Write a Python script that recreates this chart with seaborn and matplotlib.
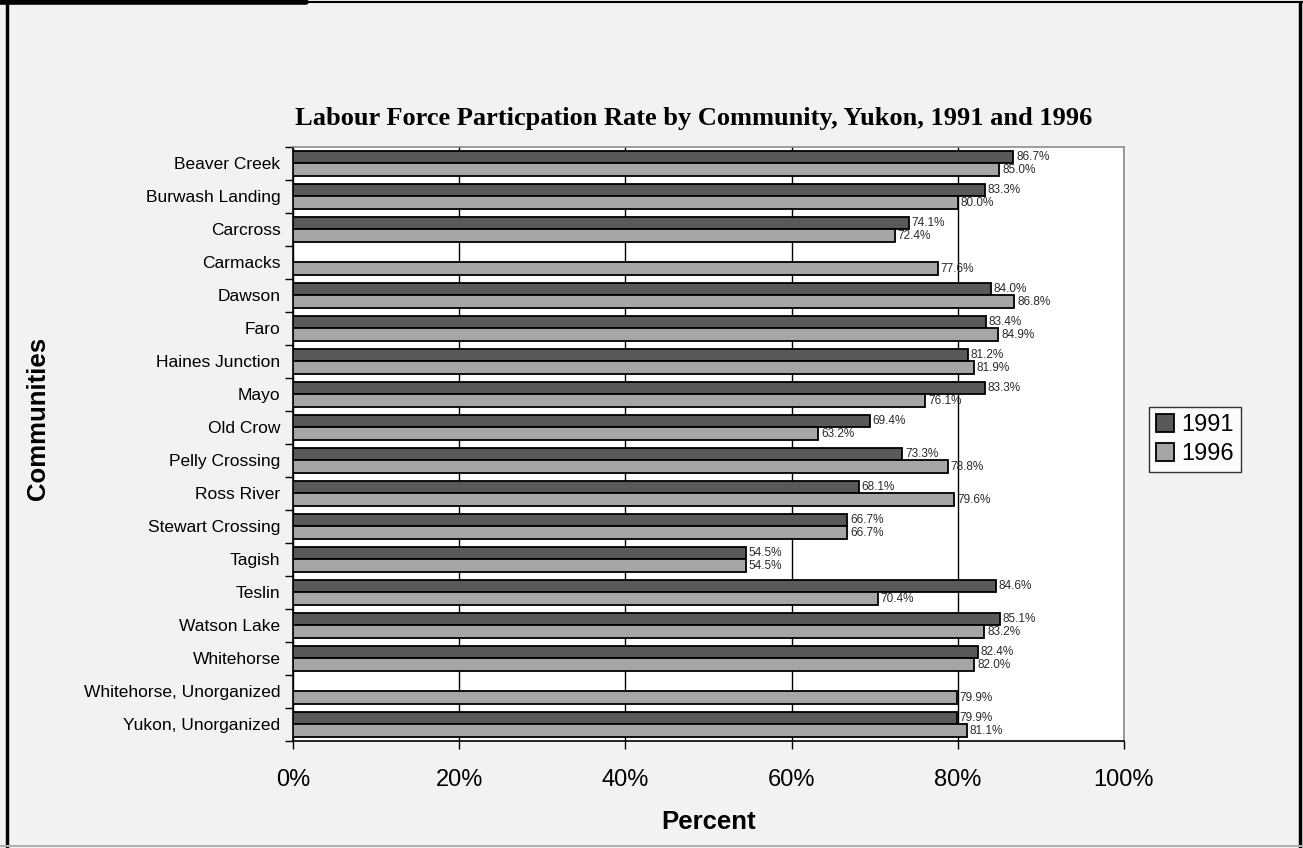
import matplotlib
matplotlib.use("Agg")
import matplotlib.pyplot as plt
from matplotlib.lines import Line2D
import numpy as np
import pandas as pd
import seaborn as sns

communities = [
    "Beaver Creek", "Burwash Landing", "Carcross", "Carmacks", "Dawson", "Faro",
    "Haines Junction", "Mayo", "Old Crow", "Pelly Crossing", "Ross River",
    "Stewart Crossing", "Tagish", "Teslin", "Watson Lake", "Whitehorse",
    "Whitehorse, Unorganized", "Yukon, Unorganized",
]
rate_1991 = [86.7, 83.3, 74.1, np.nan, 84.0, 83.4, 81.2, 83.3, 69.4, 73.3,
             68.1, 66.7, 54.5, 84.6, 85.1, 82.4, np.nan, 79.9]
rate_1996 = [85.0, 80.0, 72.4, 77.6, 86.8, 84.9, 81.9, 76.1, 63.2, 78.8,
             79.6, 66.7, 54.5, 70.4, 83.2, 82.0, 79.9, 81.1]
years = ["1991", "1996"]
x_ticks = [0, 20, 40, 60, 80, 100]

df = pd.DataFrame({
    "Community": communities * 2,
    "Year": [years[0]] * len(communities) + [years[1]] * len(communities),
    "Rate": rate_1991 + rate_1996,
})

sns.set_theme(style="white")
plt.rcParams["font.family"] = ["Liberation Sans", "DejaVu Sans"]
plt.rcParams.update({"text.color": "black", "axes.labelcolor": "black",
                     "xtick.color": "black", "ytick.color": "black"})

fig = plt.figure(figsize=(13.03, 8.48), dpi=100, facecolor="#f2f2f2")
ax = fig.add_axes([0.2249, 0.1262, 0.6377, 0.7005])
ax.set_facecolor("white")

sns.barplot(
    data=df, y="Community", x="Rate", hue="Year", order=communities,
    hue_order=years, orient="h", width=0.75,
    palette={"1991": "#595959", "1996": "#a6a6a6"},
    edgecolor="black", linewidth=1.3, saturation=1, ax=ax, zorder=3,
)

for cont in ax.containers:
    ax.bar_label(cont, fmt="%.1f%%", padding=2, fontsize=8.5, color="#2a2a2a")

ax.set_xlim(0, 100)
ax.set_ylim(len(communities) - 0.5, -0.5)
ax.set_xticks(x_ticks)
ax.set_xticklabels([f"{t}%" for t in x_ticks], fontsize=17)
ax.tick_params(axis="x", which="major", direction="out", length=6, width=1,
               color="black", pad=14, bottom=True)
ax.xaxis.grid(True, color="black", linewidth=1, zorder=0)
ax.set_axisbelow(True)

# category labels at centres, tick marks between groups
ax.tick_params(axis="y", which="major", length=0, labelsize=12.5, pad=9)
ax.set_yticks(np.arange(-0.5, len(communities), 1.0), minor=True)
ax.tick_params(axis="y", which="minor", direction="out", length=6, width=1,
               color="black", left=True)

for side in ["left", "bottom"]:
    ax.spines[side].set_color("black")
    ax.spines[side].set_linewidth(1.2)
for side in ["top", "right"]:
    ax.spines[side].set_color("#8c8c8c")
    ax.spines[side].set_linewidth(1.2)

ax.set_xlabel("")
ax.set_ylabel("")
fig.text(0.544, 1 - 822 / 848, "Percent", ha="center", va="center",
         fontsize=18.5, fontweight="bold")
fig.text(38 / 1303, 1 - 418 / 848, "Communities", ha="center", va="center",
         rotation=90, fontsize=18.5, fontweight="bold")

fig.text(0.532, 1 - 118 / 848,
         "Labour Force Particpation Rate by Community, Yukon, 1991 and 1996",
         ha="center", va="center", fontsize=19, fontweight="bold",
         color="black", family=["Liberation Serif", "DejaVu Serif"])

leg = ax.legend(loc="center left", bbox_to_anchor=(1.016, 0.507), fontsize=17,
                frameon=True, fancybox=False, edgecolor="black",
                handlelength=0.75, handleheight=0.75, handletextpad=0.3,
                borderpad=0.3, labelspacing=0.3)
leg.get_frame().set_linewidth(1)
leg.set_title(None)

# outer frame of the figure
fig.add_artist(Line2D([0.0054, 0.0054], [0.0, 0.9976], transform=fig.transFigure,
                      color="black", linewidth=2.5))
fig.add_artist(Line2D([0.9977, 0.9977], [0.0, 0.9976], transform=fig.transFigure,
                      color="black", linewidth=2.5))
fig.add_artist(Line2D([0.0, 1.0], [0.9982, 0.9982], transform=fig.transFigure,
                      color="black", linewidth=1.5))
fig.add_artist(Line2D([0.0, 0.235], [0.998, 0.998], transform=fig.transFigure,
                      color="black", linewidth=4))
fig.add_artist(Line2D([0.0, 1.0], [0.002, 0.002], transform=fig.transFigure,
                      color="#b0b0b0", linewidth=1.5))

fig.savefig("out.png", dpi=100, facecolor=fig.get_facecolor())
